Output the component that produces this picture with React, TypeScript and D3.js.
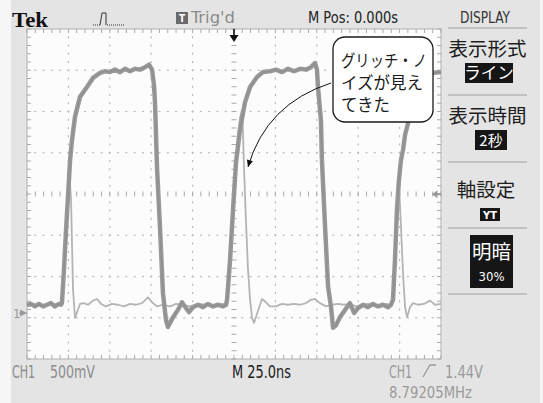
import React from "react";
import * as d3 from "d3";

// ---- scope settings ----
const TIME_DOMAIN_NS: [number, number] = [0, 250]; // 10 div x 25 ns
const VOLTS_PER_DIV = 0.5;
const H_DIVS = 10;
const V_DIVS = 8;
const GROUND_OFFSET_DIV = 1.115; // CH1 ground marker above bottom edge
const TRIGGER_LEVEL_V = 1.44;

// ---- waveforms: [time ns, CH1 volts] ----
const darkTrace: [number, number][] = [
  [0, 0.1], [2.4, 0.11], [4.8, 0.08], [7.2, 0.11], [9.7, 0.08], [12.1, 0.1], [14.5, 0.12], [16.9, 0.08], [19.3, 0.11], [20.5, 0.1],
  [21.1, 0.12], [22.3, 0.52], [23.6, 1.01], [24.8, 1.43], [26.0, 1.85], [27.2, 2.1], [29.0, 2.38], [32.0, 2.62], [36.2, 2.74], [39.9, 2.85],
  [44.1, 2.91], [47.1, 2.93], [50.1, 2.92], [53.1, 2.95], [56.2, 2.92], [59.2, 2.96], [62.2, 2.93], [65.2, 2.96], [68.2, 2.95], [71.3, 2.98],
  [73.7, 3.01], [75.5, 2.95], [76.7, 2.76], [77.3, 2.55], [78.5, 1.77], [80.3, 1.04], [82.1, 0.24], [83.9, -0.08], [85.1, -0.17], [88.2, -0.05],
  [91.2, 0.04], [93.6, 0.13], [96.0, 0.06], [97.8, 0.01], [100.2, 0.07], [103.3, 0.1], [106.3, 0.07], [109.3, 0.11], [112.3, 0.08], [115.3, 0.1],
  [118.4, 0.08], [120.2, 0.1],
  [120.8, 0.16], [122.6, 0.64], [124.4, 1.25], [126.2, 1.82], [128.6, 2.22], [131.6, 2.55], [134.7, 2.74], [138.9, 2.86], [142.5, 2.92],
  [146.7, 2.93], [150.4, 2.95], [154.0, 2.92], [157.6, 2.96], [161.2, 2.93], [164.9, 2.96], [168.5, 2.95], [171.5, 2.98], [173.9, 3.03],
  [175.1, 2.95], [175.7, 2.74], [177.5, 2.34], [178.1, 1.85], [180.0, 1.04], [181.8, 0.32], [183.6, 0.07], [184.8, -0.18], [186.6, -0.15],
  [189.0, -0.05], [193.2, 0.07], [195.0, 0.12], [197.5, 0.0], [199.9, 0.06], [202.9, 0.1], [205.9, 0.07], [208.9, 0.11], [212.0, 0.08],
  [215.0, 0.1], [218.0, 0.07], [219.8, 0.1],
  [221.0, 0.16], [222.2, 0.64], [223.4, 1.25], [224.6, 1.61], [225.8, 1.85], [227.1, 1.98], [228.3, 2.16], [230.1, 2.3], [232.5, 2.58],
  [236.1, 2.76], [240.3, 2.86], [244.6, 2.91], [250.0, 2.92],
];

const glitchTrace: [number, number][] = [
  [0, 0.08], [3.0, 0.1], [6.0, 0.11], [9.1, 0.08], [12.1, 0.1], [15.1, 0.11], [18.1, 0.1], [20.5, 0.1],
  [21.1, 0.12], [22.3, 0.52], [23.6, 1.01], [24.8, 1.43], [25.7, 1.66], [26.6, 1.37], [27.2, 0.82], [27.8, 0.28], [29.0, -0.06], [30.2, 0.01],
  [32.0, 0.11], [34.4, 0.12], [36.8, 0.1], [39.9, 0.15], [42.3, 0.17], [44.7, 0.11], [47.7, 0.08], [51.3, 0.11], [55.0, 0.1], [58.6, 0.08],
  [62.2, 0.11], [65.8, 0.1], [69.4, 0.12], [73.1, 0.19], [75.5, 0.13], [78.5, 0.08], [82.1, 0.1], [86.4, 0.08], [90.0, 0.11], [93.6, 0.1],
  [98.4, 0.08], [103.3, 0.11], [108.1, 0.1], [112.9, 0.08], [117.8, 0.11], [120.2, 0.1],
  [121.4, 0.22], [123.2, 0.76], [125.0, 1.37], [126.2, 1.79], [127.4, 2.16], [128.6, 2.36], [129.8, 2.46], [130.4, 2.22], [131.0, 1.79],
  [132.2, 1.13], [133.4, 0.55], [134.7, 0.16], [135.9, -0.06], [137.1, -0.12], [138.9, -0.01], [141.9, 0.17], [144.3, 0.13], [146.7, 0.08],
  [150.4, 0.08], [154.0, 0.11], [157.6, 0.1], [161.2, 0.11], [164.9, 0.1], [168.5, 0.12], [171.5, 0.16], [173.9, 0.17], [176.9, 0.12],
  [180.6, 0.08], [184.2, 0.1], [187.8, 0.11], [191.4, 0.1], [195.0, 0.11], [198.7, 0.08], [202.3, 0.1], [205.9, 0.11], [209.5, 0.1],
  [213.2, 0.08], [216.8, 0.11], [219.8, 0.1],
  [221.0, 0.18], [222.2, 0.64], [223.4, 1.19], [224.9, 1.45], [225.8, 1.07], [227.1, 0.46], [228.3, 0.07], [229.5, -0.05], [231.3, 0.07],
  [233.1, 0.12], [236.1, 0.1], [239.7, 0.11], [243.4, 0.15], [246.4, 0.1], [250.0, 0.11],
];

// ---- texts ----
const calloutLines = ["グリッチ・ノ", "イズが見え", "てきた"];
const menuTitles = ["表示形式", "表示時間", "軸設定"];
const menuValues = ["ライン", "2秒", "YT"];
const brightnessLabel = "明暗";
const brightnessValue = "30%";
const topTexts = { brand: "Tek", trig: "Trig'd", mpos: "M Pos: 0.000s", menu: "DISPLAY" };
const bottomTexts = { ch: "CH1", scale: "500mV", time: "M 25.0ns", trigCh: "CH1", trigLevel: "1.44V", freq: "8.79205MHz" };

const SCOPE_FONT = "'DejaVu Sans Condensed', 'DejaVu Sans', sans-serif";
const JP_FONT = "'Noto Sans CJK JP', 'Noto Sans', sans-serif";

export default function App() {
  const W = 543, H = 403;
  const plot = { left: 27, right: 441, top: 29, bottom: 359 };
  const vMin = -GROUND_OFFSET_DIV * VOLTS_PER_DIV;
  const vMax = vMin + V_DIVS * VOLTS_PER_DIV;
  const x = d3.scaleLinear().domain(TIME_DOMAIN_NS).range([plot.left, plot.right]);
  const y = d3.scaleLinear().domain([vMin, vMax]).range([plot.bottom, plot.top]);
  const line = d3.line<[number, number]>().x((d) => x(d[0])).y((d) => y(d[1]));

  const tPerDiv = (TIME_DOMAIN_NS[1] - TIME_DOMAIN_NS[0]) / H_DIVS;
  const majorX = d3.range(0, H_DIVS + 1).map((i) => x(i * tPerDiv));
  const majorY = d3.range(0, V_DIVS + 1).map((j) => y(vMin + j * VOLTS_PER_DIV));
  const minorX = d3.range(0, H_DIVS * 5 + 1).map((i) => x((i * tPerDiv) / 5));
  const minorY = d3.range(0, V_DIVS * 5 + 1).map((j) => y(vMin + (j * VOLTS_PER_DIV) / 5));
  const cx = x((TIME_DOMAIN_NS[0] + TIME_DOMAIN_NS[1]) / 2);
  const cy = y(vMin + (V_DIVS / 2) * VOLTS_PER_DIV);

  const grid: JSX.Element[] = [];
  majorX.forEach((gx, i) => {
    if (i === 0 || i === H_DIVS || i === H_DIVS / 2) return;
    minorY.forEach((my, k) => {
      if (k === 0 || k === minorY.length - 1) return;
      grid.push(<rect key={`vx${i}-${k}`} x={gx - 0.6} y={my - 1} width={1.2} height={2} fill="#b8b8b8" />);
    });
  });
  majorY.forEach((gy, j) => {
    if (j === 0 || j === V_DIVS || j === V_DIVS / 2) return;
    minorX.forEach((mx, k) => {
      if (k === 0 || k === minorX.length - 1) return;
      grid.push(<rect key={`hy${j}-${k}`} x={mx - 1} y={gy - 0.6} width={2} height={1.2} fill="#b8b8b8" />);
    });
  });
  minorY.forEach((my, k) => {
    grid.push(<line key={`cv${k}`} x1={cx - 2.5} x2={cx + 2.5} y1={my} y2={my} stroke="#aaaaaa" strokeWidth={1} />);
  });
  minorX.forEach((mx, k) => {
    grid.push(<line key={`ch${k}`} x1={mx} x2={mx} y1={cy - 2.5} y2={cy + 2.5} stroke="#aaaaaa" strokeWidth={1} />);
  });
  minorY.forEach((my, k) => {
    grid.push(<line key={`bl${k}`} x1={plot.left} x2={plot.left + 4} y1={my} y2={my} stroke="#aaaaaa" strokeWidth={1} />);
    grid.push(<line key={`br${k}`} x1={plot.right - 4} x2={plot.right} y1={my} y2={my} stroke="#aaaaaa" strokeWidth={1} />);
  });
  minorX.forEach((mx, k) => {
    grid.push(<line key={`bt${k}`} x1={mx} x2={mx} y1={plot.top} y2={plot.top + 4} stroke="#aaaaaa" strokeWidth={1} />);
    grid.push(<line key={`bb${k}`} x1={mx} x2={mx} y1={plot.bottom - 4} y2={plot.bottom} stroke="#aaaaaa" strokeWidth={1} />);
  });

  const groundY = y(0);
  const trigY = y(TRIGGER_LEVEL_V);

  const panelCx = 487.5;
  const sepYs = [28, 95, 162, 228, 294];

  return (
    <svg width={W} height={H} viewBox={`0 0 ${W} ${H}`} style={{ position: "absolute", left: 0, top: 0, display: "block" }}>
      <defs>
        <marker id="ah" viewBox="0 0 10 10" refX={10} refY={5} markerWidth={9} markerHeight={7} markerUnits="userSpaceOnUse" orient="auto">
          <path d="M0,0.5 L10,5 L0,9.5 z" fill="#111" />
        </marker>
      </defs>
      <rect x={0} y={0} width={W} height={H} fill="#e4e4e4" />
      <rect x={0} y={0} width={11} height={H} fill="#f6f6f6" />
      <rect x={540} y={0} width={3} height={H} fill="#f6f6f6" />

      {/* plot area */}
      <rect x={plot.left} y={plot.top} width={plot.right - plot.left} height={plot.bottom - plot.top} fill="#fcfcfc" stroke="#b0b0b0" strokeWidth={1} />
      <g>{grid}</g>

      {/* waveforms */}
      <path d={line(glitchTrace) || ""} fill="none" stroke="#b4b4b4" strokeWidth={1.8} strokeLinejoin="round" />
      <path d={line(darkTrace) || ""} fill="none" stroke="#999999" strokeWidth={4.5} strokeLinejoin="round" />
      <path d={line(darkTrace) || ""} fill="none" stroke="#8a8a8a" strokeWidth={1.2} strokeLinejoin="round" opacity={0.7} />

      {/* trigger position marker */}
      <line x1={cx} x2={cx} y1={29} y2={36} stroke="#111" strokeWidth={1.6} />
      <path d={`M${cx - 4.5},35 L${cx + 4.5},35 L${cx},42 z`} fill="#111" />
      {/* trigger level marker */}
      <path d={`M432,${trigY} L437.5,${trigY - 4} L437.5,${trigY + 4} z`} fill="#999" />
      <line x1={436} x2={441} y1={trigY} y2={trigY} stroke="#999" strokeWidth={2} />
      {/* ground marker */}
      <text x={13} y={groundY + 5} fontFamily={SCOPE_FONT} fontSize={13} fill="#9a9a9a">1</text>
      <path d={`M20,${groundY - 3.5} L27,${groundY} L20,${groundY + 3.5} z`} fill="#9a9a9a" />
      <line x1={19} x2={27} y1={groundY} y2={groundY} stroke="#9a9a9a" strokeWidth={1} />

      {/* callout */}
      <rect x={333} y={37} width={100} height={85} rx={12} ry={12} fill="#ffffff" stroke="#1a1a1a" strokeWidth={1.3} />
      <path d="M331,83 Q266,104 248,167" fill="none" stroke="#111" strokeWidth={1} markerEnd="url(#ah)" />
      {calloutLines.map((t, i) => (
        <text key={t} x={341} y={67 + i * 22} fontFamily={JP_FONT} fontSize={16.5} fill="#1a1a1a"
          {...(i === 0 ? { textLength: 86, lengthAdjust: "spacingAndGlyphs" } : {})}>{t}</text>
      ))}

      {/* top bar */}
      <text x={12} y={27} fontFamily="'Liberation Serif', 'DejaVu Serif', serif" fontWeight="bold" fontSize={20} fill="#111" textLength={36} lengthAdjust="spacingAndGlyphs">{topTexts.brand}</text>
      <path d="M93,25 H100" stroke="#333" strokeWidth={1} strokeDasharray="1 1" />
      <path d="M100,25 L102,13 H106 V25" fill="none" stroke="#333" strokeWidth={1} />
      <path d="M107,25 H125" stroke="#333" strokeWidth={1} strokeDasharray="1 1" />
      <rect x={176} y={12} width={12} height={12} fill="#6a6a6a" />
      <text x={182} y={22} textAnchor="middle" fontFamily={SCOPE_FONT} fontWeight="bold" fontSize={10} fill="#fff">T</text>
      <text x={191} y={23} fontFamily={SCOPE_FONT} fontSize={15} fill="#8a8a8a" textLength={44} lengthAdjust="spacingAndGlyphs">{topTexts.trig}</text>
      <text x={308} y={23} fontFamily={SCOPE_FONT} fontSize={15} fill="#222" textLength={90} lengthAdjust="spacingAndGlyphs">{topTexts.mpos}</text>
      <text x={460} y={23} fontFamily={SCOPE_FONT} fontSize={15} fill="#333" textLength={50} lengthAdjust="spacingAndGlyphs">{topTexts.menu}</text>

      {/* right menu */}
      {sepYs.map((sy) => (
        <line key={sy} x1={448} x2={527} y1={sy} y2={sy} stroke="#a0a0a0" strokeWidth={1} />
      ))}
      <text x={panelCx} y={56} textAnchor="middle" fontFamily={JP_FONT} fontSize={19.5} fill="#1e1e1e">{menuTitles[0]}</text>
      <rect x={465} y={63} width={48} height={20} fill="#161616" />
      <text x={489} y={79} textAnchor="middle" fontFamily={JP_FONT} fontSize={16.5} fill="#fff">{menuValues[0]}</text>

      <text x={panelCx} y={123} textAnchor="middle" fontFamily={JP_FONT} fontSize={19.5} fill="#1e1e1e">{menuTitles[1]}</text>
      <rect x={475} y={130} width={32} height={20} fill="#161616" />
      <text x={491} y={146} textAnchor="middle" fontFamily={JP_FONT} fontSize={15} fill="#fff">{menuValues[1]}</text>

      <text x={486} y={197} textAnchor="middle" fontFamily={JP_FONT} fontSize={19.5} fill="#1e1e1e">{menuTitles[2]}</text>
      <rect x={480} y={208} width={20} height={13} fill="#161616" />
      <text x={490} y={218.5} textAnchor="middle" fontFamily={SCOPE_FONT} fontWeight="bold" fontSize={11} fill="#fff">{menuValues[2]}</text>

      <rect x={470} y={235} width={43} height={53} fill="#161616" />
      <text x={491.5} y={259} textAnchor="middle" fontFamily={JP_FONT} fontSize={19.5} fill="#fff">{brightnessLabel}</text>
      <text x={491.5} y={281} textAnchor="middle" fontFamily={SCOPE_FONT} fontSize={13} fill="#fff">{brightnessValue}</text>

      {/* bottom status */}
      <text x={12} y={378} fontFamily={SCOPE_FONT} fontSize={17} fill="#8c8c8c" textLength={23} lengthAdjust="spacingAndGlyphs">{bottomTexts.ch}</text>
      <text x={50} y={378} fontFamily={SCOPE_FONT} fontSize={17} fill="#8c8c8c" textLength={45} lengthAdjust="spacingAndGlyphs">{bottomTexts.scale}</text>
      <text x={232} y={378} fontFamily={SCOPE_FONT} fontSize={17} fill="#1a1a1a" textLength={59} lengthAdjust="spacingAndGlyphs">{bottomTexts.time}</text>
      <text x={389} y={378} fontFamily={SCOPE_FONT} fontSize={17} fill="#9a9a9a" textLength={23} lengthAdjust="spacingAndGlyphs">{bottomTexts.trigCh}</text>
      <path d="M423,377 L430,365 H436" fill="none" stroke="#9a9a9a" strokeWidth={1.3} />
      <text x={445} y={378} fontFamily={SCOPE_FONT} fontSize={17} fill="#9a9a9a" textLength={38} lengthAdjust="spacingAndGlyphs">{bottomTexts.trigLevel}</text>
      <text x={389} y={398} fontFamily={SCOPE_FONT} fontSize={16} fill="#9a9a9a" textLength={83} lengthAdjust="spacingAndGlyphs">{bottomTexts.freq}</text>
    </svg>
  );
}
